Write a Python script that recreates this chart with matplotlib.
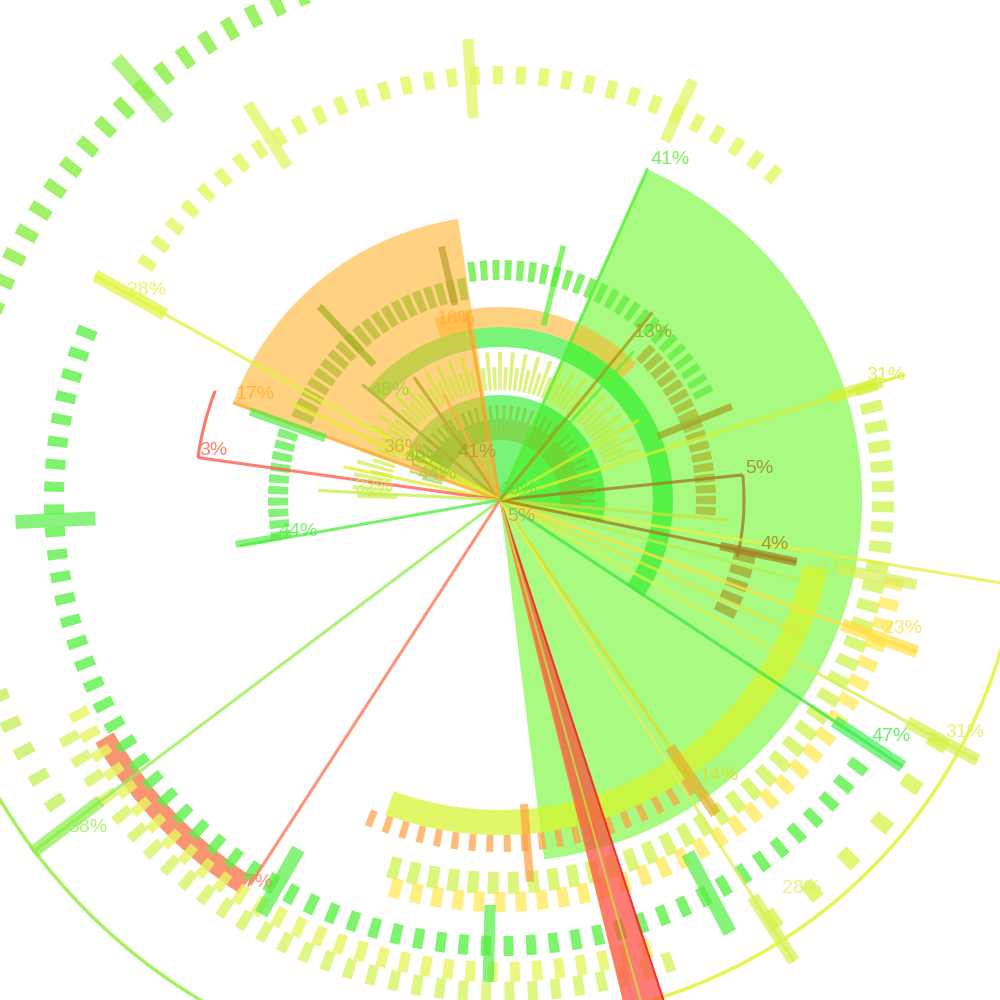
import numpy as np
import matplotlib
matplotlib.use('Agg')
import matplotlib.pyplot as plt
from matplotlib.patches import Wedge, Arc

plt.rcParams['font.family'] = ['Liberation Sans', 'DejaVu Sans']

# labelled radial lines (angle in degrees, counter-clockwise from east)
line_pct = ['41%', '28%', '17%', '3%', '32%', '44%', '38%', '7%', '14%', '28%',
            '47%', '31%', '23%', '4%', '5%', '31%', '13%']
line_ang = [66, 151, 160, 172, 177, 190, 217, 237, -55.5, -57.5,
            -33.5, -28.6, -20, -11.8, 5.9, 17.2, 50.9]
line_len = [363, 463, 284, 305, 182, 264, 585, 459, 381, 547,
            483, 544, 444, 303, 244, 424, 242]
line_col = ['#55ee33', '#e2f53a', '#ffaa30', '#ff6050', '#c8f050', '#55ee44',
            '#99ee55', '#ff7755', '#e0dc20', '#e0f060', '#44e844', '#d8f050',
            '#ffe040', '#a08020', '#a08020', '#d8f030', '#a0a020']
lab_ang = [66.2, 150.7, 158.2, 170.6, 174.9, 188.2, 217.2, 236.2, -54.0, -54.0,
           -32.5, -27.6, -18.5, -9.8, 7.4, 18.7, 51.3]
lab_r = [372, 428, 285, 305, 146, 224, 542, 460, 340, 480,
         441, 502, 404, 264, 247, 387, 214]

# extra labels around the centre
inner_pct = ['27%', '48%', '18%', '36%', '49%', '44%', '41%', '49%', '5%']
inner_ang = [-11.9, 139.8, 109.3, 156, 156.2, 163, 131.9, 100, -66]
inner_r = [325, 170, 191, 128, 104, 86, 64, 11, 18]
inner_col = ['#c8f040', '#99cc33', '#ffaa40', '#d0a040', '#99bb33',
             '#99cc33', '#b09030', '#55dd44', '#c0a040']

# thick bar segments (angle, inner radius, outer radius, width pt, colour)
bar_ang = [151, 217, 189.5, 178, -55.5, -57.5, -33.5, -28.6, -20, -11.8, 17.2, -11.5,
           76, 22, 133, 103, 160.5, -85.5, 182.6, -120, -91.4, -62, 94, 122.5, 65.3, 131]
bar_r0 = [383, 500, 222, 103, 300, 470, 401, 464, 364, 225, 345, 345,
          180, 170, 185, 200, 185, 305, 405, 403, 405, 400, 383, 395, 395, 505]
bar_r1 = [463, 585, 268, 143, 381, 547, 483, 544, 444, 303, 400, 425,
          262, 250, 265, 260, 265, 383, 485, 478, 482, 490, 462, 470, 462, 585]
bar_w = [9, 9, 5, 4, 8, 9, 9, 9, 9, 6, 8, 8,
         4, 5, 5, 5, 6, 6, 10, 10, 8, 10, 8, 8, 8, 10]
bar_col = ['#e2f53a', '#88ee44', '#55ee44', '#c8f050', '#e0b030', '#d8f050', '#44ee55',
           '#d8f050', '#ffe040', '#a08020', '#d8f030', '#d8f050', '#55ee33', '#a0a020',
           '#a0b020', '#c0a030', '#55ee44', '#ffa040', '#55ee44', '#55ee44', '#55ee44',
           '#55ee44', '#e2f55a', '#e2f55a', '#e2f55a', '#8ef04e']

# unlabelled thin radial lines
extra_ang = [100, 155, 140, 48, 30, -9.4, -24, -15, 125, 118, 168, -5]
extra_len = [190, 230, 180, 200, 160, 620, 330, 310, 150, 120, 160, 230]
extra_col = ['#ffa030', '#e0f020', '#b0b030', '#66ee33', '#d0f030', '#e8f040',
             '#e0e840', '#b8f050', '#c0a030', '#ffb040', '#e0f020', '#c8e040']

# dashed tick rings: inner radius, radial length, start, end, step, tangential width
ring_r = [532, 416, 436, 372, 392, 462, 482, 490, 212, 203, 220, 196, 240, 110, 60, 335, 528]
ring_len = [22, 18, 20, 22, 20, 20, 20, 20, 20, 22, 20, 20, 22, 38, 35, 17, 20]
ring_a0 = [103, 50, 158, -106, -105, -153, -151, -57, 163, 100, 28, -3, -26, 20, -5, -112, -165]
ring_a1 = [160, 148, 324, 17, -12, -70, -68, -28, 190, 157, 97, 45, -13, 178, 165, -55, -145]
ring_step = [2.8, 3.1, 2.9, 3.0, 3.0, 2.7, 2.7, 5.6, 2.9, 3.0, 3.0, 3.0, 3.2, 2.5, 2.2, 2.9, 3.2]
ring_w = [11, 10, 10, 11, 11, 10, 10, 14, 8, 8, 7, 8, 9, 3.5, 2.5, 7, 11]
ring_col = ['#8ef04e', '#e6f86a', '#5ef04a', '#d2f55a', '#ffe94a', '#e8f560', '#d0f550',
            '#d8f550', '#66ee55', '#a8b820', '#66ee44', '#a8a820', '#a09020', '#c8e830',
            '#88b820', '#ffa040', '#c8f060']
ring_alpha = [0.85, 0.85, 0.8, 0.8, 0.7, 0.8, 0.7, 0.8, 0.8, 0.6, 0.8, 0.6, 0.6, 0.6, 0.5, 0.7, 0.8]


def pos(r, a):
    t = np.radians(a)
    return r * np.cos(t), r * np.sin(t)


fig = plt.figure(figsize=(10, 10), dpi=100)
ax = fig.add_axes([0, 0, 1, 1])
ax.set_xlim(-500, 500)
ax.set_ylim(-500, 500)
ax.axis('off')

# thin outer arcs
ax.add_patch(Arc((0, 0), 2 * 583, 2 * 583, theta1=-160, theta2=-100, color='#a8f060', lw=2.5))
ax.add_patch(Arc((0, 0), 2 * 523, 2 * 523, theta1=-80, theta2=-5, color='#e8f550', lw=2.5))

# big sectors and bands
ax.add_patch(Wedge((0, 0), 362, -83, 66, fc='#71f72b', alpha=0.6, lw=0))
ax.add_patch(Wedge((0, 0), 105, -12, 155, fc='#1eee1e', alpha=0.6, lw=0))
ax.add_patch(Wedge((0, 0), 173, -34, 140, width=20, fc='#1eee1e', alpha=0.6, lw=0))
ax.add_patch(Wedge((0, 0), 284, 98.5, 160, fc='#ffb42f', alpha=0.6, lw=0))
ax.add_patch(Wedge((0, 0), 193, 45, 110, width=20, fc='#ffb42f', alpha=0.6, lw=0))
ax.add_patch(Wedge((0, 0), 335, -110, -12, width=25, fc='#d6f528', alpha=0.7, lw=0))
ax.add_patch(Wedge((0, 0), 472, -149, -123.5, width=21, fc='#f87a50', alpha=0.8, lw=0))

# tick rings
for r0, ln, a0, a1, st, w, c, al in zip(ring_r, ring_len, ring_a0, ring_a1,
                                         ring_step, ring_w, ring_col, ring_alpha):
    for i, a in enumerate(np.arange(a0, a1 + 1e-6, st)):
        L = ln if (ln < 30 or i % 2 == 0) else ln * 0.6
        dw = np.degrees(w / (r0 + L / 2))
        ax.add_patch(Wedge((0, 0), r0 + L, a - dw / 2, a + dw / 2, width=L,
                           fc=c, alpha=al, lw=0))

# red radial bar
ax.add_patch(Wedge((0, 0), 620, -76.2, -71.8, fc='#ff4a40', alpha=0.72, lw=0))
for a, c in zip([-71.9, -76.1, -74.3], ['#ee2020', '#ff8040', '#c8e040']):
    x, y = pos(620, a)
    ax.plot([0, x], [0, y], color=c, lw=1.5, alpha=0.8)

# thin unlabelled lines
for a, r, c in zip(extra_ang, extra_len, extra_col):
    x, y = pos(r, a)
    ax.plot([0, x], [0, y], color=c, lw=2.2, alpha=0.75, solid_capstyle='butt')

# labelled lines
for a, r, c in zip(line_ang, line_len, line_col):
    x, y = pos(r, a)
    ax.plot([0, x], [0, y], color=c, lw=2.2, alpha=0.8, solid_capstyle='butt')

# small arcs at the ends of the 3% and 5% lines
ax.add_patch(Arc((0, 0), 2 * 305, 2 * 305, theta1=159, theta2=172, color='#ff6050', lw=2.2, alpha=0.85))
ax.add_patch(Arc((0, 0), 2 * 244, 2 * 244, theta1=-13.5, theta2=5.9, color='#a08020', lw=2.2, alpha=0.8))

# bars
for a, r0, r1, w, c in zip(bar_ang, bar_r0, bar_r1, bar_w, bar_col):
    x0, y0 = pos(r0, a)
    x1, y1 = pos(r1, a)
    ax.plot([x0, x1], [y0, y1], color=c, lw=w, alpha=0.7, solid_capstyle='butt')

# labels
for p, a, r, c in zip(line_pct, lab_ang, lab_r, line_col):
    x, y = pos(r, a)
    ax.text(x, y, p, color=c, fontsize=14, ha='left', va='center', alpha=0.8)
for p, a, r, c in zip(inner_pct, inner_ang, inner_r, inner_col):
    x, y = pos(r, a)
    ax.text(x, y, p, color=c, fontsize=14, ha='left', va='center', alpha=0.75)

fig.savefig('out.png', dpi=100, facecolor='white')
